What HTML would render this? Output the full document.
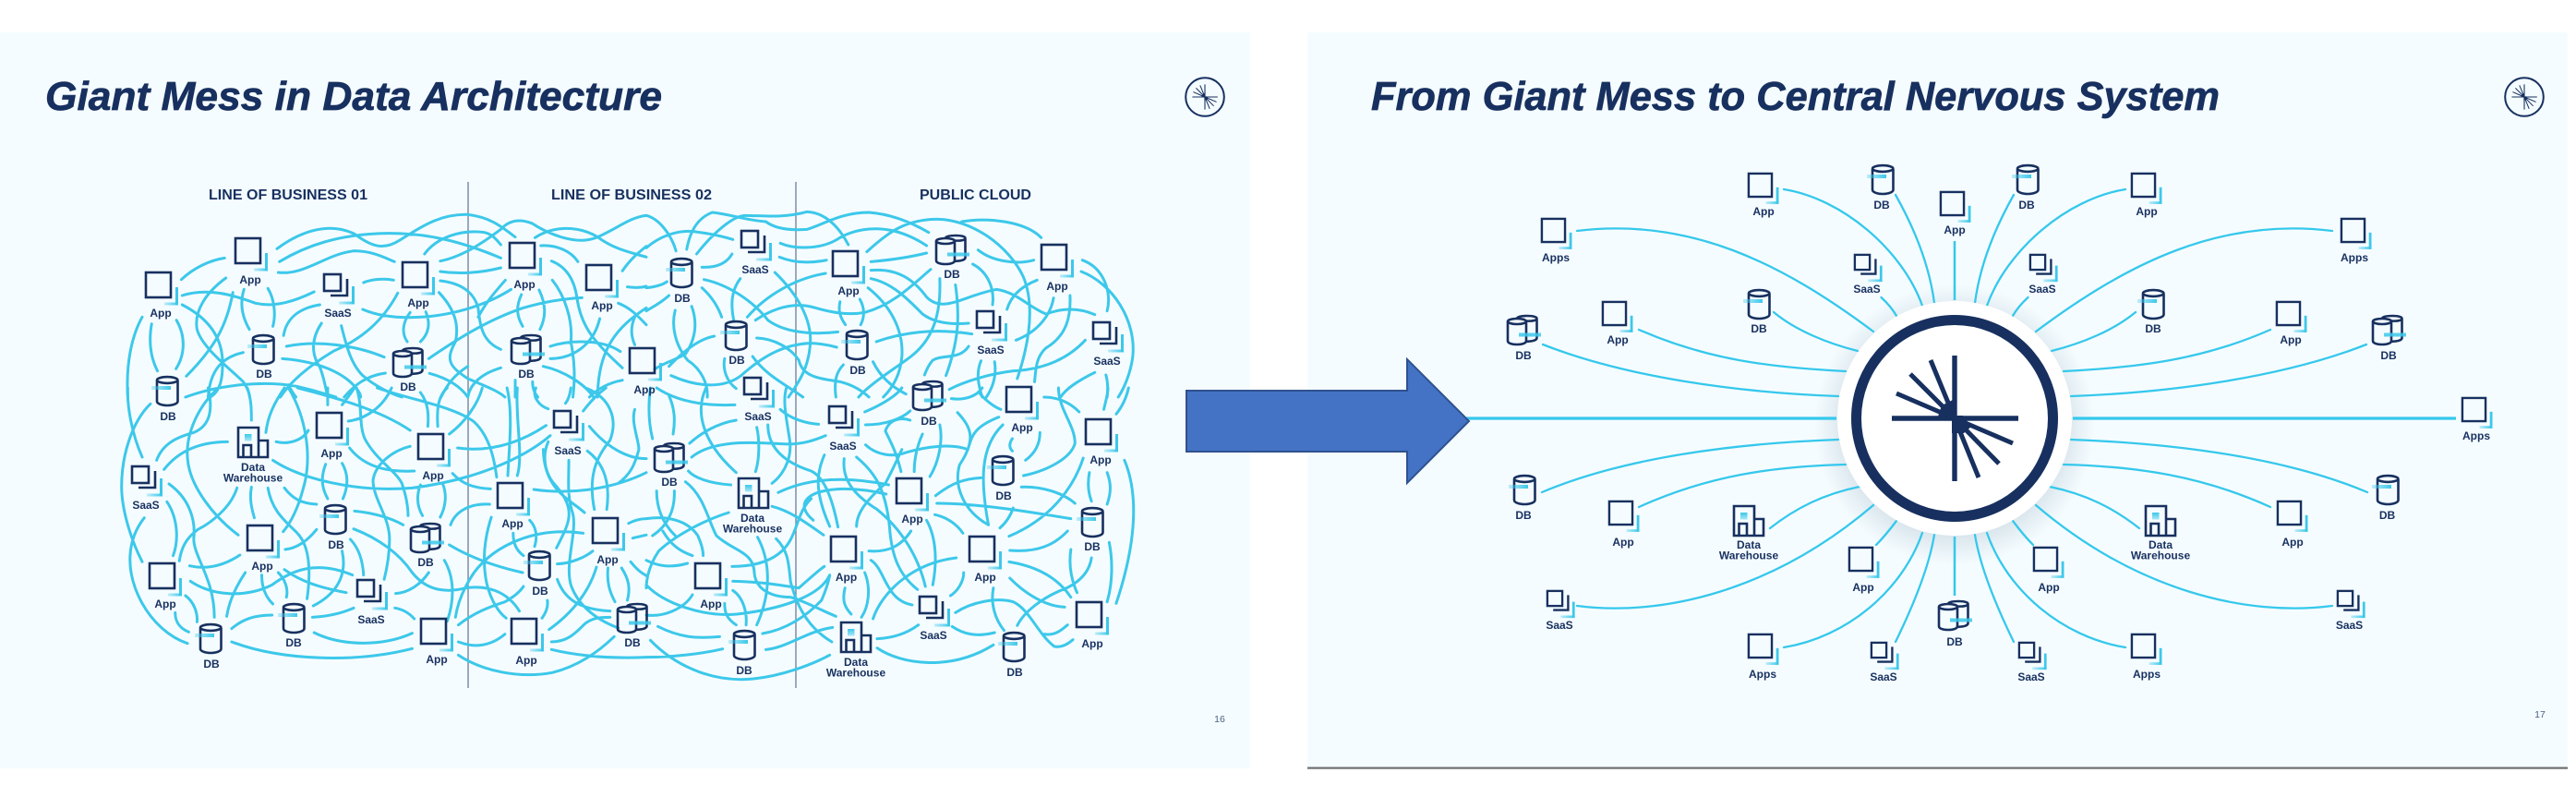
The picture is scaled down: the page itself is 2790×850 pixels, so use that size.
<!DOCTYPE html>
<html><head><meta charset="utf-8"><style>
html,body{margin:0;padding:0;background:#fff}
svg{display:block}
text{font-family:"Liberation Sans",sans-serif;fill:#17305f}
.l{font-size:12px;font-weight:700;text-anchor:middle}
.h{font-size:15.5px;font-weight:700}
.t{font-size:44px;font-weight:700;font-style:italic;stroke:#17305f;stroke-width:.7}
.n{font-size:10.5px;text-anchor:middle;fill:#4a5f82}
.m path{fill:none;stroke:#3cc8ea;stroke-width:3;stroke-linecap:round;vector-effect:non-scaling-stroke}
.i{fill:none;stroke:#17305f;stroke-width:2.6}
.r path{fill:none;stroke:#35c8ec;stroke-width:2.3;stroke-linecap:round}
</style></head><body>
<svg xmlns="http://www.w3.org/2000/svg" width="2790" height="850" viewBox="0 0 2790 850">
<defs>
<linearGradient id="gh" x1="0" y1="0" x2="1" y2="0"><stop offset="0" stop-color="#3cc8ea" stop-opacity=".3"/><stop offset="1" stop-color="#3cc8ea"/></linearGradient>
<linearGradient id="gt" x1="0" y1="0" x2="0" y2="1"><stop offset="0" stop-color="#3cc8ea"/><stop offset="1" stop-color="#3cc8ea" stop-opacity=".4"/></linearGradient>
<radialGradient id="sh"><stop offset=".8" stop-color="#7f9cb0" stop-opacity=".22"/><stop offset="1" stop-color="#7f9cb0" stop-opacity="0"/></radialGradient>
<g id="a"><rect class="i" x="1" y="1" width="27" height="27"/><rect x="33" y="17" width="3" height="19" fill="#3cc8ea"/><rect x="21" y="33.500" width="15" height="3" fill="url(#gh)"/></g>
<g id="s"><rect class="i" x="1" y="1" width="18" height="18"/><path class="i" d="M26 6V24H8"/><rect x="31" y="14" width="3" height="19" fill="#3cc8ea"/><rect x="17" y="30.500" width="17" height="3" fill="url(#gh)"/></g>
<g id="d"><path class="i" d="M1 5V27.500C1 30 6 32 12.200 32S23.500 30 23.500 27.500V5"/><ellipse class="i" cx="12.200" cy="4.500" rx="11.200" ry="3.400"/><rect x="-5" y="11" width="21" height="4" fill="url(#gh)"/></g>
<g id="D"><path class="i" d="M11 4C11 2 16 1 22 1S32.500 2 32.500 4V25C32.500 27 29 28.500 21.500 28.800M32.500 4C32.500 6 27 7 21 6.500"/><ellipse class="i" cx="11" cy="7" rx="10" ry="3"/><path class="i" d="M1 7V28C1 30.500 5 32 11 32S21 30.500 21 28V7"/><rect x="13" y="19.500" width="24" height="4" fill="#3cc8ea" opacity=".85"/></g>
<g id="w"><path class="i" d="M1 33V1H23V33ZM23 15H33V33H1M6.500 33V20H15V33"/><rect x="8" y="8" width="7.500" height="7.500" fill="url(#gt)"/></g>
<g id="star" fill="none" stroke="#17305f">
<path d="M0-68L0 68M-68 0L69 0" stroke-width="5.400"/>
<path d="M0 0L-26-63M0 0L-48-48M0 0L-63-27M0 0L63 27M0 0L48 49M0 0L26 64" stroke-width="5"/>
<path d="M-3-3H9L18 9L10 16L6 16L-3 16Z" fill="#17305f" stroke="none"/>
<path d="M-2-2V-20L-14-14L-18-2Z" fill="#17305f" stroke="none"/>
</g>
</defs>

<rect x="0" y="35" width="1354" height="797" fill="#f5fcff"/>
<rect x="1416" y="35" width="1365" height="797" fill="#f5fcff"/>
<rect x="1416" y="830.500" width="1365" height="2.200" fill="#6e6e6e"/>

<text class="t" x="49" y="119" textLength="668" lengthAdjust="spacingAndGlyphs">Giant Mess in Data Architecture</text>
<text class="t" x="1485" y="119" textLength="919" lengthAdjust="spacingAndGlyphs">From Giant Mess to Central Nervous System</text>
<text class="h" x="226" y="216" textLength="172" lengthAdjust="spacingAndGlyphs">LINE OF BUSINESS 01</text>
<text class="h" x="597" y="216" textLength="174" lengthAdjust="spacingAndGlyphs">LINE OF BUSINESS 02</text>
<text class="h" x="996" y="216" textLength="121" lengthAdjust="spacingAndGlyphs">PUBLIC CLOUD</text>
<text class="n" x="1321" y="782">16</text>
<text class="n" x="2751" y="777">17</text>

<circle cx="1305" cy="105" r="20.800" fill="none" stroke="#17305f" stroke-width="2"/>
<use href="#star" transform="translate(1305 105) scale(.2)"/>
<circle cx="2734" cy="105" r="20.800" fill="none" stroke="#17305f" stroke-width="2"/>
<use href="#star" transform="translate(2734 105) scale(.2)"/>

<path d="M507 197V745M862 197V745" stroke="#6b7a99" stroke-width="1.300" fill="none"/>

<g class="m">
<g transform="scale(.44643 .33333)"><path d="M672 808C730 750 800 720 860 760C900 800 930 815 970 780C1030 730 1070 695 1135 697C1190 705 1220 740 1250 770M678 850C740 800 820 760 940 758C1040 757 1120 785 1215 838M675 885C740 895 790 825 860 815C900 815 930 835 957 850M1030 825C1060 770 1120 745 1175 755C1195 760 1205 780 1215 795M1068 848C1120 835 1170 790 1215 745C1235 715 1260 710 1290 725C1330 760 1400 800 1450 770C1500 740 1530 705 1568 700M1298 772C1340 735 1400 730 1450 770C1490 810 1530 820 1568 835M1068 882C1120 892 1170 885 1215 870M1068 912C1120 920 1150 950 1160 1000C1165 1060 1170 1110 1215 1135M1065 950C1100 1000 1115 1050 1105 1110C1080 1170 1090 1190 1135 1230C1170 1250 1210 1270 1225 1290M880 1005C940 1040 1040 1040 1130 1005C1180 985 1210 965 1240 940M1312 798C1350 795 1385 815 1402 850M1338 848C1380 870 1395 920 1400 970C1410 1060 1440 1110 1510 1195M1340 910C1370 960 1390 1040 1385 1110C1395 1180 1395 1230 1390 1290M1040 1165C1100 1110 1180 1040 1270 1000C1320 980 1370 970 1412 967M1226 910C1200 950 1180 980 1160 1030M1265 957C1250 1000 1255 1030 1268 1060M1308 942C1325 990 1325 1030 1310 1070M1335 1125C1380 1105 1460 1100 1505 1142M1335 1165C1390 1165 1440 1120 1455 1035M1318 1190C1370 1205 1420 1250 1440 1290M1510 1235C1470 1245 1445 1270 1430 1290M1510 880C1530 840 1550 820 1568 800M1522 932C1540 935 1555 935 1568 930M1500 985C1530 1000 1550 1030 1568 1055M1568 1000C1500 1060 1450 1130 1450 1290M1540 1030C1530 1060 1530 1090 1540 1120M1250 1235L1250 1290M1292 1240C1292 1260 1295 1275 1305 1290M1215 1195C1165 1215 1140 1250 1135 1290M440 908C470 870 510 845 545 838M442 960C500 935 560 955 620 985C670 1000 720 975 762 948M442 990C500 1030 540 1090 540 1180C540 1230 535 1270 510 1290M548 903C500 950 470 1010 478 1070C490 1130 560 1200 590 1240C600 1260 605 1275 606 1290M565 950C550 1060 520 1130 452 1222M592 940C580 990 590 1035 605 1070M650 937C665 970 670 1020 662 1060M776 990C730 1000 695 1030 688 1090M882 918C900 908 930 903 955 910M965 952C930 1040 880 1100 810 1140C760 1180 710 1230 680 1290M695 1125C770 1105 860 1120 932 1160M685 1165C740 1170 800 1190 840 1230C860 1250 875 1275 875 1290M590 1145C540 1160 510 1200 505 1290M780 1050C755 1100 755 1150 775 1190C785 1220 790 1260 795 1290M828 1058C840 1120 850 1180 880 1220C910 1255 950 1280 975 1290M995 1015C975 1050 975 1085 988 1110M1033 1013C1045 1050 1040 1085 1020 1110M935 1212C890 1220 860 1250 835 1290M1042 1213C1090 1230 1120 1260 1135 1290M1070 1290C1085 1250 1100 1220 1135 1190M450 1290C530 1250 640 1235 720 1255C770 1270 790 1280 815 1290M345 1030C320 1090 305 1180 310 1290M368 1052C360 1110 365 1160 382 1205M428 1040C450 1090 450 1150 427 1198M700 1250C705 1265 712 1280 718 1290"/></g>

<g transform="translate(700 0) scale(.44643 .33333)"><path d="M0 700C30 710 60 760 72 815M0 805C30 770 80 740 130 755C160 760 190 770 210 778M98 810C105 760 120 710 160 690C200 695 240 715 290 720C310 740 340 750 390 745C430 730 470 690 540 690C590 695 640 720 685 755M122 825C160 760 210 700 240 700C280 700 330 710 390 688C430 690 465 730 490 795M325 790C360 810 420 810 460 780C500 745 550 735 600 750C630 760 660 780 680 798M323 835C360 855 400 855 437 845M312 885C370 960 400 1040 398 1110C395 1200 365 1250 345 1290M135 868C170 870 195 855 208 825M140 908C200 925 260 980 295 1040C330 1075 390 1090 465 1078M135 935C160 965 175 1000 183 1030M228 905C205 945 205 990 212 1040M245 1030C290 960 360 905 435 888M535 818C590 750 630 715 700 712C790 710 880 800 915 900C945 1000 925 1130 900 1230M265 1040C310 1000 360 980 410 1000C450 1015 490 1025 530 1015C600 990 650 920 690 875M545 850C590 845 640 835 680 822M545 878C610 870 650 910 680 965C720 1020 770 960 850 940C900 950 930 1000 970 1020C1010 1000 1050 1000 1088 1022M545 905C600 920 640 980 670 1020C700 1050 740 1055 782 1050M765 720C830 705 920 720 958 772M805 812C840 850 900 860 940 845M792 858C830 885 845 940 840 990M875 1005C885 960 910 930 948 910M988 968C980 1030 945 1080 897 1105M1028 960C1030 1030 1020 1090 970 1130C945 1160 945 1200 942 1240M1058 845C1110 870 1130 950 1118 1010M1055 882C1130 920 1190 1040 1180 1160C1175 1210 1160 1260 1145 1290M1065 1105C1020 1170 960 1200 890 1205C830 1215 770 1240 735 1265M1088 1210C1050 1235 1020 1260 1005 1290M1115 1218C1120 1240 1120 1270 1118 1290M470 980C465 1010 470 1030 483 1055M518 972C530 1000 530 1030 520 1055M538 935C590 990 625 1070 620 1160C615 1230 590 1270 575 1290M558 1110C620 1080 700 1065 790 1085M712 905C715 1010 700 1100 640 1160C600 1200 540 1250 515 1290M750 925C760 1020 760 1100 727 1220M782 1125C760 1170 720 1150 695 1170C685 1185 680 1200 675 1218M812 1172C800 1210 805 1250 815 1290M845 1175C850 1220 840 1260 825 1290M55 1190C90 1140 130 1100 165 1092M60 1220C110 1250 180 1270 230 1220C280 1160 330 1120 395 1115C420 1115 440 1120 462 1128M268 1098C310 1100 350 1130 370 1170C380 1230 430 1230 470 1240C500 1250 525 1270 540 1290M70 1008C60 1060 70 1120 100 1170C135 1200 150 1250 148 1290M110 995C125 1050 120 1100 95 1150C70 1170 40 1180 20 1200M55 960C30 990 10 1000 0 1010M0 935C20 932 40 925 50 915M190 1165C185 1200 195 1240 218 1262M258 1158C290 1220 340 1250 380 1290M460 1290C455 1240 460 1210 478 1185M550 1175C570 1230 600 1260 630 1280"/></g>

<g transform="translate(0 420) scale(.44643 .33333)"><path d="M310 0C308 60 320 150 345 225M365 52C320 110 295 220 295 320C295 400 320 500 345 565M530 0C480 60 450 150 455 230C460 320 520 420 578 478M505 0C515 60 515 120 470 145C430 160 395 180 380 235M398 265C430 210 480 175 552 175M600 0C610 40 610 70 610 105M690 0C665 50 650 90 645 145M700 0C740 90 760 220 735 330C725 380 710 430 687 467M670 175C700 185 735 170 748 138M795 0C795 20 795 40 795 55M830 55C845 30 855 10 860 0M845 108C890 100 930 60 950 0M865 0C880 60 870 120 885 165C910 230 960 270 975 310C985 350 990 385 990 415M722 0C810 30 920 70 995 138M1020 15C1040 50 1040 90 1038 125M1085 0C1060 30 1060 80 1062 125M915 0C1000 40 1100 60 1150 110C1190 160 1200 240 1205 290M1090 150C1130 110 1160 50 1170 0M995 190C950 205 910 250 905 300C905 360 945 420 945 490C945 540 940 580 932 622M848 195C880 250 930 275 1005 270M662 235C730 295 860 340 1000 325C1150 300 1270 230 1335 155M1110 195C1190 210 1260 180 1325 122M1098 278C1120 310 1145 325 1190 328M1020 315C1010 350 1012 385 1025 415M1075 315C1085 350 1080 390 1068 420M790 248C778 290 780 325 795 360M830 245C845 280 845 320 832 360M410 312C460 360 475 430 470 490C470 550 520 620 520 745M405 370C430 420 435 490 420 545M350 422C310 490 300 590 345 700C370 760 410 810 455 830M575 325C560 390 510 440 480 460C450 490 440 520 435 562M610 322C605 360 610 390 617 422M650 325C660 400 690 430 720 470C750 510 755 590 745 685M690 325C710 360 730 375 768 378M768 460C750 490 725 520 692 525M860 400C900 405 945 420 978 445M858 458C920 490 970 540 1000 600C1030 650 1070 670 1130 650C1180 640 1230 660 1260 725M850 492C870 520 880 560 882 608M830 530C840 590 830 660 760 708M460 578C500 590 540 580 582 543M462 628C520 680 600 680 660 640C710 590 770 560 855 608M450 675C470 695 480 730 478 760M425 730C425 760 435 780 458 793M595 600C570 650 555 700 550 742M635 608C635 650 645 680 662 702M675 600C690 620 700 650 695 680M690 590C730 630 780 650 840 665M562 782C590 750 620 738 660 738M758 745C800 742 830 732 858 715M960 668C990 665 1020 640 1040 600M958 715C980 720 995 735 1005 750M762 795C830 840 930 840 1000 797M562 825C680 885 860 895 1000 847M1090 510C1140 550 1200 580 1268 600M1078 560C1100 610 1105 680 1085 758M1415 472C1300 450 1200 510 1150 600C1125 650 1110 700 1105 745M1112 770C1150 730 1190 710 1225 695C1245 680 1260 665 1270 645M1112 825C1150 845 1190 840 1225 800M1112 868C1170 920 1260 945 1340 925C1400 905 1450 860 1490 808M1338 850C1400 870 1480 880 1568 875M1338 825C1380 825 1400 790 1420 765C1440 745 1460 745 1480 745M1332 785C1390 730 1430 660 1447 582M1328 690C1330 710 1325 730 1315 748M1192 420C1175 490 1170 560 1180 630C1190 690 1210 730 1228 748M1188 378C1140 375 1105 400 1093 445M1245 472C1245 500 1250 525 1270 545M1285 430C1300 450 1305 480 1297 515M1352 572C1385 570 1420 550 1438 530M1350 520C1380 440 1400 400 1350 320C1320 280 1315 220 1330 175M1380 235C1380 300 1375 350 1390 410C1400 470 1370 570 1385 640C1400 700 1440 750 1500 780M1352 622C1370 690 1410 720 1480 725M1430 125C1470 190 1520 230 1568 230M1425 205C1470 250 1480 320 1472 395M1295 330C1400 350 1500 320 1568 275M1415 75C1440 30 1460 10 1470 0M1300 0C1290 30 1310 60 1330 68M1385 0C1383 20 1378 40 1372 50M1230 0C1245 80 1235 200 1232 285M1255 0C1250 100 1270 220 1255 285M1420 0C1480 30 1500 100 1480 170C1450 220 1425 280 1442 395M1418 405C1380 360 1320 330 1318 200M1475 585C1472 630 1478 660 1492 695M1508 585C1525 620 1530 650 1522 690M1530 565C1545 590 1555 600 1568 610M1525 440C1540 430 1555 425 1568 425M1535 488C1545 485 1560 480 1568 478M1540 70C1530 110 1550 170 1550 200C1540 250 1530 280 1500 310"/></g>

<g transform="translate(700 420) scale(.44643 .33333)"><path d="M10 0C5 50 5 110 15 165M55 25C70 70 70 110 65 150M25 0C70 40 130 60 215 55M145 0C120 70 130 170 218 275M105 180C130 150 170 115 218 105M110 225C160 170 250 175 330 182C370 185 400 175 435 155M340 0C330 40 340 100 348 170C355 240 325 290 305 310M325 70C350 100 385 115 418 118M268 128C275 170 275 230 265 272M295 120C295 190 330 240 400 270C430 290 450 350 465 452M432 218C415 270 405 330 445 450M480 230C475 290 495 340 560 395C620 460 660 550 677 645M510 225C550 270 580 320 590 450C595 550 615 610 658 655M320 340C390 295 480 285 588 315M405 430C360 380 385 330 480 328C520 328 550 335 582 345M305 385C350 400 390 440 430 478M205 315C150 310 115 290 102 270M95 305C140 350 150 430 170 480C210 530 260 530 262 600C265 660 310 680 350 680C380 690 420 720 460 742M25 335C25 390 40 440 70 480M68 335C70 400 50 450 15 480M200 405C140 430 70 480 30 530C0 590 0 640 0 650M0 425C50 415 100 430 125 480C135 510 138 530 138 545M40 465C60 510 80 530 112 545M0 560C30 580 60 585 100 570M208 580C250 580 290 570 320 540C370 490 360 410 400 360M210 628C280 630 320 640 370 650C400 615 420 590 432 580M0 640C40 700 140 745 220 735C320 720 420 680 445 608M270 485C300 560 305 660 268 770M315 490C345 530 345 570 350 630C360 680 380 770 450 825M0 738C40 745 90 720 112 672M210 658C235 680 245 730 242 770M190 700C190 730 195 750 218 770M28 775C80 810 120 815 178 808M10 820C60 890 150 960 260 945C330 935 400 900 445 868M0 875C60 875 130 865 185 848M282 798C340 785 390 740 425 690C435 660 440 640 445 610M290 850C340 845 390 790 452 778M482 650C475 690 480 710 497 735M530 600C545 650 540 710 522 745M550 750C570 670 640 570 752 552M540 530C590 535 620 510 642 465M545 560C580 590 580 690 645 705M560 815C600 812 635 795 660 770M560 845C620 900 740 920 842 835M702 350C740 310 770 295 812 292M705 375C800 375 920 400 1030 425M618 272C605 200 590 170 580 140C590 100 620 95 640 105M650 272C650 220 660 180 670 150M688 288C710 240 720 170 712 120M532 185C560 220 600 225 630 210C680 190 740 180 780 200C790 160 790 130 855 95M530 78C580 50 610 20 620 0M532 120C580 120 620 100 640 75M755 80C790 130 800 170 760 250C745 320 770 400 830 445M865 120C810 190 810 300 830 445M888 165C880 180 880 195 888 205M955 145C955 180 945 210 920 235M890 390C885 410 875 435 858 455M740 35C770 40 800 30 815 0M810 20C830 50 850 65 860 70M965 30C1000 30 1030 50 1050 78M1000 0C1000 70 1040 120 1040 180C1030 230 970 270 915 285M1110 70C1115 40 1120 20 1120 0M1140 85C1155 60 1165 30 1170 0M1060 228C1040 310 990 420 880 482M1075 275C1070 310 1072 340 1080 368M1118 275C1128 310 1128 340 1118 378M1160 235C1190 330 1195 480 1140 700M910 322C960 320 1010 340 1040 375M882 528C950 535 990 510 1022 465M880 565C950 580 1000 620 1030 680M882 618C920 670 970 710 1015 712M1030 525C1025 570 1030 620 1045 665M1080 552C1075 600 1050 630 1020 650C960 680 915 730 900 772M1123 502C1133 570 1130 640 1118 695M842 650C835 700 845 750 868 788M750 730C790 695 850 680 890 695C930 720 950 800 990 840C1010 845 1025 830 1035 818M742 775C770 800 800 810 845 795M965 800C990 805 1005 790 1022 770M770 600C770 630 755 660 738 675M680 430C705 490 705 570 695 640M700 412C730 420 755 445 768 472M510 450C510 410 530 370 580 310C600 260 610 230 620 200"/></g>
</g>

<g>
<use href="#a" x="157" y="294"/><use href="#a" x="254" y="257"/><use href="#a" x="435" y="283"/><use href="#a" x="551" y="262"/><use href="#a" x="634" y="286"/><use href="#a" x="681" y="376"/><use href="#a" x="342" y="446"/><use href="#a" x="452" y="469"/><use href="#a" x="538" y="522"/><use href="#a" x="641" y="560"/><use href="#a" x="267" y="568"/><use href="#a" x="161" y="609"/><use href="#a" x="455" y="669"/><use href="#a" x="553" y="669"/><use href="#a" x="901" y="271"/><use href="#a" x="1127" y="264"/><use href="#a" x="1089" y="418"/><use href="#a" x="1175" y="453"/><use href="#a" x="970" y="517"/><use href="#a" x="899" y="580"/><use href="#a" x="1049" y="580"/><use href="#a" x="752" y="609"/><use href="#a" x="1165" y="651"/>
<use href="#s" x="350" y="296"/><use href="#s" x="142" y="504"/><use href="#s" x="599" y="444"/><use href="#s" x="386" y="627"/><use href="#s" x="802" y="249"/><use href="#s" x="1057" y="336"/><use href="#s" x="1183" y="348"/><use href="#s" x="805" y="408"/><use href="#s" x="897" y="439"/><use href="#s" x="995" y="645"/>
<use href="#d" x="273" y="362"/><use href="#d" x="169" y="407"/><use href="#d" x="351" y="546"/><use href="#d" x="572" y="596"/><use href="#d" x="306" y="653"/><use href="#d" x="216" y="675"/><use href="#d" x="726" y="279"/><use href="#d" x="785" y="347"/><use href="#d" x="916" y="357"/><use href="#d" x="1074" y="493"/><use href="#d" x="1171" y="549"/><use href="#d" x="794" y="682"/><use href="#d" x="1086" y="684"/>
<use href="#D" x="425" y="376"/><use href="#D" x="553" y="362"/><use href="#D" x="444" y="566"/><use href="#D" x="668" y="653"/><use href="#D" x="1013" y="254"/><use href="#D" x="988" y="412"/><use href="#D" x="708" y="479"/>
<use href="#w" x="257" y="462"/><use href="#w" x="799" y="517"/><use href="#w" x="910" y="673"/>
</g>

<g>
<text class="l" x="174" y="343">App</text><text class="l" x="271" y="307">App</text><text class="l" x="366" y="343">SaaS</text><text class="l" x="453" y="332">App</text><text class="l" x="568" y="312">App</text><text class="l" x="652" y="335">App</text><text class="l" x="698" y="426">App</text>
<text class="l" x="286" y="409">DB</text><text class="l" x="442" y="423">DB</text><text class="l" x="570" y="409">DB</text><text class="l" x="182" y="455">DB</text>
<text class="l" x="359" y="495">App</text><text class="l" x="469" y="519">App</text><text class="l" x="274" y="510">Data</text><text class="l" x="274" y="521.500">Warehouse</text><text class="l" x="158" y="551">SaaS</text><text class="l" x="615" y="492">SaaS</text><text class="l" x="555" y="571">App</text><text class="l" x="658" y="610">App</text><text class="l" x="284" y="617">App</text>
<text class="l" x="364" y="594">DB</text><text class="l" x="461" y="613">DB</text><text class="l" x="585" y="644">DB</text><text class="l" x="179" y="658">App</text><text class="l" x="402" y="675">SaaS</text><text class="l" x="685" y="700">DB</text><text class="l" x="318" y="700">DB</text><text class="l" x="229" y="723">DB</text><text class="l" x="473" y="718">App</text><text class="l" x="570" y="719">App</text>
<text class="l" x="739" y="327">DB</text><text class="l" x="818" y="296">SaaS</text><text class="l" x="919" y="319">App</text><text class="l" x="1031" y="301">DB</text><text class="l" x="1145" y="314">App</text><text class="l" x="798" y="394">DB</text><text class="l" x="1073" y="383">SaaS</text><text class="l" x="1199" y="395">SaaS</text><text class="l" x="929" y="405">DB</text>
<text class="l" x="821" y="455">SaaS</text><text class="l" x="1006" y="460">DB</text><text class="l" x="1107" y="467">App</text><text class="l" x="913" y="487">SaaS</text><text class="l" x="1192" y="502">App</text><text class="l" x="1087" y="541">DB</text><text class="l" x="725" y="526">DB</text><text class="l" x="815" y="565">Data</text><text class="l" x="815" y="576.500">Warehouse</text><text class="l" x="988" y="566">App</text><text class="l" x="1183" y="596">DB</text><text class="l" x="916.500" y="629">App</text><text class="l" x="1067" y="629">App</text><text class="l" x="770" y="658">App</text><text class="l" x="1183" y="701">App</text><text class="l" x="1011" y="692">SaaS</text><text class="l" x="806" y="730">DB</text><text class="l" x="927" y="721">Data</text><text class="l" x="927" y="732.500">Warehouse</text><text class="l" x="1099" y="732">DB</text>
</g>

<circle cx="2117" cy="460" r="152" fill="url(#sh)"/>
<g class="r" id="rl">
<path d="M1932 205C1995 215 2060 270 2082 331M2053 211C2075 250 2090 290 2095 328M1708 250C1830 235 1930 285 2029 359M2037.500 322C2044 328 2050 335 2054 342M1921 338C1945 358 1980 372 2012 380M1775 357C1850 390 1920 398 1999 402M1671 373C1760 408 1880 425 1991 429M1670 533C1760 495 1880 480 1991 476M1775 549C1850 515 1920 505 1999 503M1917 572C1945 550 1975 535 2014 527M1708 656C1800 668 1920 640 2029 547M2032 590C2040 582 2048 572 2054 564M1932 701C2000 690 2060 640 2082 577M2053 695C2075 650 2090 610 2095 579"/>
</g>
<use href="#rl" transform="translate(4234 0) scale(-1 1)"/>
<path d="M2117 261V325M2117 581V645" stroke="#35c8ec" stroke-width="2.500" fill="none"/>
<path d="M1588 453H1989M2245 453H2660" stroke="#35c8ec" stroke-width="3.200" fill="none"/>
<circle cx="2117" cy="453" r="127" fill="#fff"/>
<circle cx="2117" cy="453" r="106.500" fill="#fff" stroke="#17305f" stroke-width="11"/>
<use href="#star" transform="translate(2117 453)"/>

<g>
<use href="#a" transform="translate(1893 187) scale(.93)"/><use href="#a" transform="translate(1669 236) scale(.93)"/><use href="#a" transform="translate(1735 326) scale(.93)"/><use href="#a" transform="translate(2101 207) scale(.93)"/><use href="#a" transform="translate(2308 187) scale(.93)"/><use href="#a" transform="translate(2535 236) scale(.93)"/><use href="#a" transform="translate(2465 326) scale(.93)"/><use href="#a" transform="translate(2666 430) scale(.93)"/><use href="#a" transform="translate(2466 542) scale(.93)"/><use href="#a" transform="translate(2202 592) scale(.93)"/><use href="#a" transform="translate(1742 542) scale(.93)"/><use href="#a" transform="translate(2002 592) scale(.93)"/><use href="#a" transform="translate(1893 686) scale(.93)"/><use href="#a" transform="translate(2308 686) scale(.93)"/>
<use href="#s" transform="translate(2008 275) scale(.9)"/><use href="#s" transform="translate(2198 275) scale(.9)"/><use href="#s" transform="translate(2531 639) scale(.9)"/><use href="#s" transform="translate(2186 695) scale(.9)"/><use href="#s" transform="translate(1675 639) scale(.9)"/><use href="#s" transform="translate(2026 695) scale(.9)"/>
<use href="#d" x="2027" y="178"/><use href="#d" x="1893" y="313"/><use href="#d" x="2184" y="178"/><use href="#d" x="2320" y="313"/><use href="#d" x="2574" y="514"/><use href="#d" x="1639" y="514"/>
<use href="#D" x="1632" y="341"/><use href="#D" x="2569" y="341"/><use href="#D" x="2099" y="650"/>
<use href="#w" x="2323" y="547"/><use href="#w" x="1877" y="547"/>
</g>
<g>
<text class="l" x="1910" y="233">App</text><text class="l" x="2038" y="226">DB</text><text class="l" x="1685" y="283">Apps</text><text class="l" x="2022" y="317">SaaS</text><text class="l" x="1905" y="360">DB</text><text class="l" x="1752" y="372">App</text><text class="l" x="1650" y="389">DB</text>
<text class="l" x="2117" y="253">App</text><text class="l" x="2195" y="226">DB</text><text class="l" x="2325" y="233">App</text><text class="l" x="2550" y="283">Apps</text><text class="l" x="2212" y="317">SaaS</text><text class="l" x="2332" y="360">DB</text><text class="l" x="2481" y="372">App</text><text class="l" x="2587" y="389">DB</text>
<text class="l" x="2682" y="476">Apps</text><text class="l" x="2585.500" y="562">DB</text><text class="l" x="2483" y="591">App</text><text class="l" x="2340" y="594">Data</text><text class="l" x="2340" y="605.500">Warehouse</text><text class="l" x="2219" y="640">App</text><text class="l" x="2544.500" y="681">SaaS</text><text class="l" x="2117" y="699">DB</text><text class="l" x="2200" y="737">SaaS</text><text class="l" x="2325" y="734">Apps</text>
<text class="l" x="1650" y="562">DB</text><text class="l" x="1758" y="591">App</text><text class="l" x="1894" y="594">Data</text><text class="l" x="1894" y="605.500">Warehouse</text><text class="l" x="2018" y="640">App</text><text class="l" x="1689" y="681">SaaS</text><text class="l" x="1909" y="734">Apps</text><text class="l" x="2040" y="737">SaaS</text>
</g>

<polygon points="1285,423 1524,423 1524,389 1591,456 1524,523 1524,489 1285,489" fill="#4472c4" stroke="#2f528f" stroke-width="2"/>
</svg>
</body></html>
